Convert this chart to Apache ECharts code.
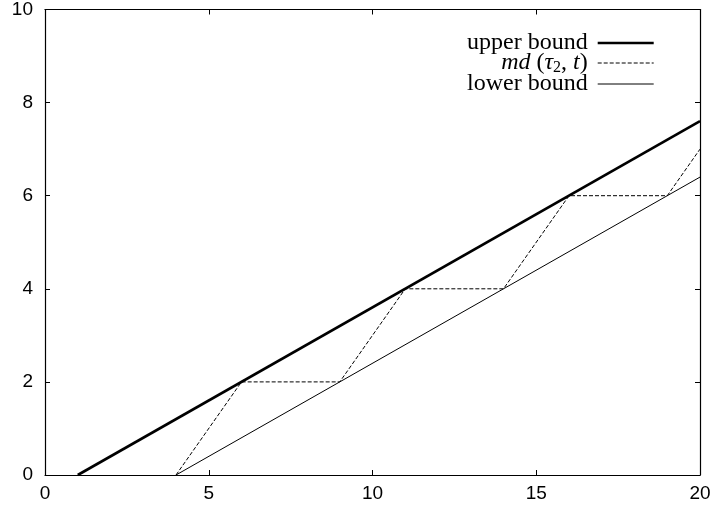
<!DOCTYPE html>
<html>
<head>
<meta charset="utf-8">
<style>
  html, body { margin: 0; padding: 0; background: #fff; }
  #chart { width: 715px; height: 512px; }
</style>
<script src="https://cdn.jsdelivr.net/npm/echarts@6/dist/echarts.min.js"></script>
</head>
<body>
<div id="chart"></div>
<script>
// Axis ticks
const xTicks = [0, 5, 10, 15, 20];
const yTicks = [0, 2, 4, 6, 8, 10];

// upper bound line
const upperX = [1, 20];
const upperY = [0, 7.6];

// md(tau_2, t) staircase
const mdX = [4, 6, 9, 11, 14, 16, 19, 20];
const mdY = [0, 2, 2, 4, 4, 6, 6, 7];

// lower bound line
const lowerX = [4, 20];
const lowerY = [0, 6.4];

const names = ['upper bound', 'md', 'lower bound'];

function pairs(xs, ys) { return xs.map((x, i) => [x, ys[i]]); }

const chart = echarts.init(document.getElementById('chart'), null, { renderer: 'canvas' });

const sansLabel = { fontFamily: 'Liberation Sans', fontSize: 19, color: '#000' };
const tickStyle = { show: true, inside: true, length: 5, lineStyle: { color: '#000', width: 1 } };

function xAxis(pos, labels) {
  return {
    type: 'value', position: pos, min: xTicks[0], max: xTicks[xTicks.length - 1], interval: 5,
    axisLine: { show: true, onZero: false, lineStyle: { color: '#000', width: 1.2 } },
    axisTick: tickStyle,
    axisLabel: labels ? Object.assign({ margin: 9 }, sansLabel) : { show: false },
    splitLine: { show: false }
  };
}
function yAxis(pos, labels) {
  return {
    type: 'value', position: pos, min: yTicks[0], max: yTicks[yTicks.length - 1], interval: 2,
    axisLine: { show: true, onZero: false, lineStyle: { color: '#000', width: 1.2 } },
    axisTick: tickStyle,
    axisLabel: labels ? Object.assign({ margin: 12 }, sansLabel) : { show: false },
    splitLine: { show: false }
  };
}

const serif = 'Liberation Serif';
const fs = 24;

// Line styles shared by series and their legend keys
const styles = [
  { color: '#000', width: 2.6 },
  { color: '#000', width: 1, type: [4, 2] },
  { color: '#000', width: 1 }
];

chart.setOption({
  animation: false,
  backgroundColor: '#fff',
  grid: { left: 45, right: 15, top: 7, bottom: 37 },
  xAxis: [xAxis('bottom', true), xAxis('top', false)],
  yAxis: [yAxis('left', true), yAxis('right', false)],
  legend: {
    orient: 'vertical',
    right: 55,
    top: 26,
    align: 'right',
    itemWidth: 56,
    itemHeight: 14,
    itemGap: -4,
    selectedMode: false,
    data: names.map((n, i) => ({ name: n, lineStyle: styles[i] })),
    itemStyle: { opacity: 0 },
    formatter: function (n) {
      if (n === 'md') return '{i|md} ({i|τ}{s|2}{n|, }{i|t})';
      return n;
    },
    textStyle: {
      fontFamily: serif, fontSize: fs, color: '#000', padding: [0, 5, 0, 0],
      rich: {
        i: { fontFamily: serif, fontStyle: 'italic', fontSize: fs, color: '#000' },
        n: { fontFamily: serif, fontSize: fs, color: '#000' },
        s: { fontFamily: serif, fontSize: 16, color: '#000', padding: [10, 0, 0, 0] }
      }
    }
  },
  series: [
    {
      name: names[0], type: 'line', data: pairs(upperX, upperY),
      showSymbol: false, symbol: 'none', lineStyle: styles[0]
    },
    {
      name: names[1], type: 'line', data: pairs(mdX, mdY),
      showSymbol: false, symbol: 'none', lineStyle: styles[1]
    },
    {
      name: names[2], type: 'line', data: pairs(lowerX, lowerY),
      showSymbol: false, symbol: 'none', lineStyle: styles[2]
    }
  ]
});
</script>
</body>
</html>
